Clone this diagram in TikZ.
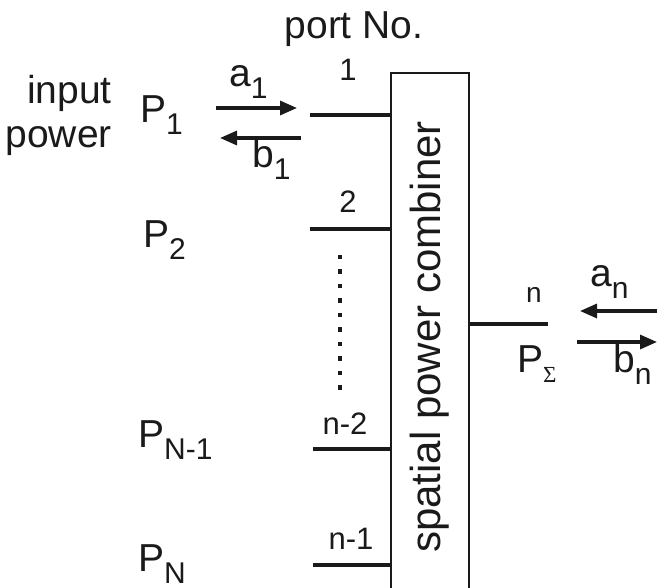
\documentclass[tikz,border=0pt]{standalone}
\usepackage{fontspec}
\setmainfont{Liberation Sans}
\newfontfamily\greekserif{Liberation Serif}
\usetikzlibrary{arrows.meta,positioning,calc}
\definecolor{spcInk}{HTML}{1A1A1A}
\newcommand{\lowidx}[1]{\raisebox{-12pt}{\fontsize{30}{30}\selectfont #1}}
\newcommand{\sumidx}{\raisebox{-10pt}{\fontsize{23}{23}\selectfont\greekserif Σ}}
\tikzset{
  spc/text/.style={text=spcInk, inner sep=0pt, font=\fontsize{39}{44}\selectfont},
  spc/port/.style={text=spcInk, inner sep=0pt, font=\fontsize{31}{32}\selectfont},
  spc/stub/.style={draw=spcInk, line width=3.6pt},
  spc/box/.style={draw=spcInk, line width=1.8pt},
  spc/wave/.style={-{Triangle[length=17pt,width=14pt]}, draw=spcInk,
    line width=3.2pt},
  spc/dots/.style={draw=spcInk, line width=4.5pt, dash pattern=on 4.5pt off 10pt},
}

\begin{document}
\begin{tikzpicture}[x=1pt, y=-1pt]
\useasboundingbox (0,0) rectangle (657,588);

% combiner block, open at the lower edge
\node[minimum width=78pt, minimum height=524pt, inner sep=0pt] (comb) at (430,335) {};
\draw[spc/box] (comb.south west) -- (comb.north west) -- (comb.north east) -- (comb.south east);
\node[spc/text, font=\fontsize{42}{44}\selectfont, rotate=90] (combtext) at ([yshift=-2pt]comb.center) {spatial power combiner};

\node[spc/text, anchor=base] (portno) at (354,39) {port No.};
\node[spc/text, align=right, anchor=north east] (inpow) at (112,75) {input\\power};

% input ports
\coordinate (s1) at (310,115);
\coordinate (s2) at (310,229);
\coordinate (s3) at (313,449);
\coordinate (s4) at (313,565);
\draw[spc/stub] (s1) -- (s1 -| comb.west);
\draw[spc/stub] (s2) -- (s2 -| comb.west);
\draw[spc/stub] (s3) -- (s3 -| comb.west);
\draw[spc/stub] (s4) -- (s4 -| comb.west);
\node[spc/port, anchor=base] (n1) at (348,81) {1};
\node[spc/port, anchor=base] (n2) at (348,213) {2};
\node[spc/port, anchor=base] (n3) at (345,435) {n-2};
\node[spc/port, anchor=base] (n4) at (351,550) {n-1};
\coordinate (dtop) at (340,255);
\coordinate (dbot) at (340,400);
\draw[spc/dots] (dtop) -- (dbot);

\node[spc/text, anchor=base west] (p1) at (140,123) {P\lowidx{1}};
\node[spc/text, anchor=base west] (p2) at (143,248) {P\lowidx{2}};
\node[spc/text, anchor=base west] (p3) at (138,448) {P\lowidx{N-1}};
\node[spc/text, anchor=base west] (p4) at (138,571) {P\lowidx{N}};

% waves at port 1
\coordinate (a1tail) at (216,108);
\coordinate (a1head) at (297,108);
\coordinate (b1tail) at (301,138);
\coordinate (b1head) at (220,138);
\draw[spc/wave] (a1tail) -- (a1head);
\draw[spc/wave] (b1tail) -- (b1head);
\node[spc/text, anchor=base west] (a1lab) at (229,87) {a\lowidx{1}};
\node[spc/text, anchor=base west] (b1lab) at (252,168) {b\lowidx{1}};

% output port
\coordinate (so) at (548,324);
\draw[spc/stub] (comb.east |- so) -- (so);
\node[spc/port, font=\fontsize{28}{30}\selectfont, anchor=base] (nout) at (534,303) {n};
\node[spc/text, anchor=base west] (psum) at (517,373) {P\sumidx};
\coordinate (antail) at (657,311);
\coordinate (anhead) at (580,311);
\coordinate (bntail) at (577,342);
\coordinate (bnhead) at (657,342);
\draw[spc/wave] (antail) -- (anhead);
\draw[spc/wave] (bntail) -- (bnhead);
\node[spc/text, anchor=base west] (anlab) at (590,287) {a\lowidx{n}};
\node[spc/text, anchor=base west] (bnlab) at (613,373) {b\lowidx{n}};
\end{tikzpicture}
\end{document}
